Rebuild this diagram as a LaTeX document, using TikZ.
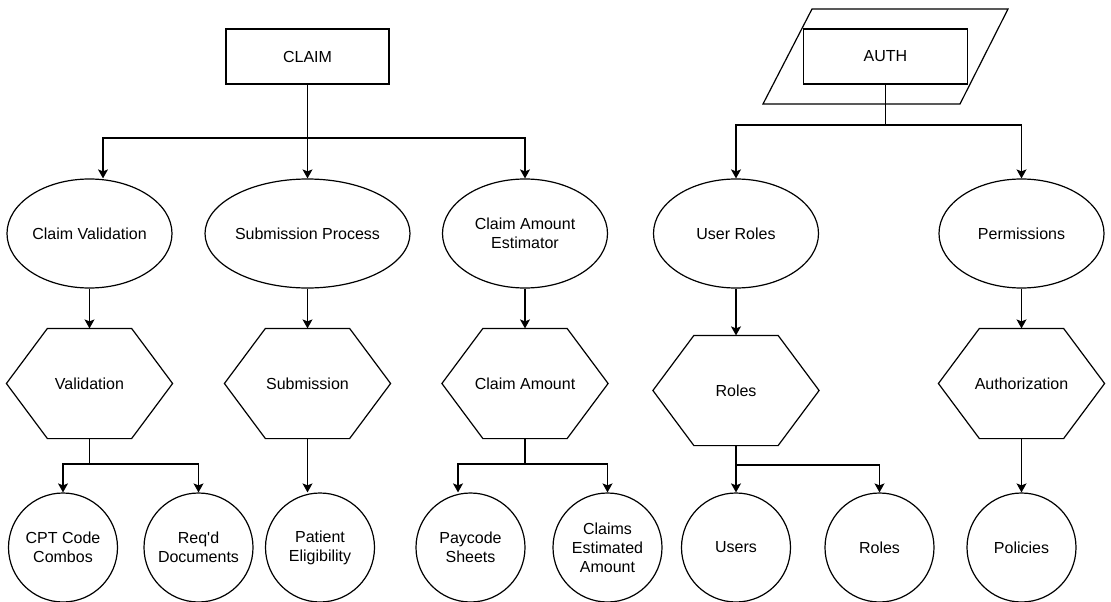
\documentclass[tikz,border=0pt]{standalone}
\usepackage{fontspec}
\setmainfont{Liberation Sans}
\usetikzlibrary{shapes.geometric,arrows.meta,calc}
\begin{document}
\begin{tikzpicture}[x=1pt,y=-1pt, line width=1.2pt, font=\fontsize{16}{19}\selectfont,
  box/.style={draw, fill=white, minimum width=163pt, minimum height=55pt, inner sep=0pt},
  oval/.style={draw, ellipse, minimum width=165pt, minimum height=109pt, inner sep=0pt, align=center},
  hexa/.style={minimum width=165pt, minimum height=109pt, inner sep=0pt, align=center},
  leaf/.style={draw, circle, minimum size=109pt, inner sep=0pt, align=center},
  arr/.style={-{Stealth[length=9pt,width=10pt,inset=2pt]}}]
\useasboundingbox (0,0) rectangle (1111,602);

% top level
\node[box] (claim) at (307.5,56.5) {CLAIM};
\draw (812,9) -- (1008,9) -- (960,104) -- (763,104) -- cycle;
\node[box, minimum width=164pt] (auth) at (885.5,56.5) {AUTH};

% ellipses
\node[oval] (cv)  at (89.5,233.5)  {Claim Validation};
\node[oval] (sp)  at (307.5,233.5) {Submission Process};
\node[oval] (cae) at (525,233.5)   {Claim Amount\\Estimator};
\node[oval] (ur)  at (736,233.5)   {User Roles};
\node[oval] (pm)  at (1021.5,233.5){Permissions};

% hexagons
\node[hexa] (val) at (89.5,383.5)  {Validation};
\node[hexa] (sub) at (307.5,383.5) {Submission};
\node[hexa] (cam) at (525,383.5)   {Claim Amount};
\node[hexa] (rol) at (736,390.5)   {Roles};
\node[hexa] (aut) at (1021.5,383.5){Authorization};
\foreach \n in {val,sub,cam,rol,aut}
  \draw ($(\n.north west)+(41,0)$) -- ($(\n.north east)+(-41,0)$) -- (\n.east)
     -- ($(\n.south east)+(-41,0)$) -- ($(\n.south west)+(41,0)$) -- (\n.west) -- cycle;

% circles
\node[leaf] (cpt) at (63,547.5)    {CPT Code\\Combos};
\node[leaf] (req) at (198.5,547.5) {Req\textquotesingle d\\Documents};
\node[leaf] (pe)  at (320,547.5)   {Patient\\Eligibility};
\node[leaf] (pay) at (470.5,547.5) {Paycode\\Sheets};
\node[leaf] (cea) at (607.5,547.5) {Claims\\Estimated\\Amount};
\node[leaf] (usr) at (736,547.5)   {Users};
\node[leaf] (rls) at (879.5,547.5) {Roles};
\node[leaf] (pol) at (1021.5,547.5){Policies};

% junctions
\coordinate (jc)  at (307.5,138);
\coordinate (ja)  at (885.5,125);
\coordinate (jv)  at (89.5,464);
\coordinate (jca) at (525,464);
\coordinate (jr)  at (736,465);

% connectors top
\draw[arr] (claim.south) -- (sp.north);
\draw[arr] (jc) -| ([xshift=13.5pt]cv.north);
\draw[arr] (jc) -| (cae.north);
\draw (auth.south) -- (ja);
\draw[arr] (ja) -| (ur.north);
\draw[arr] (ja) -| (pm.north);

% ellipse to hexagon
\draw[arr] (cv.south) -- (val.north);
\draw[arr] (sp.south) -- (sub.north);
\draw[arr] (cae.south) -- (cam.north);
\draw[arr] (ur.south) -- (rol.north);
\draw[arr] (pm.south) -- (aut.north);

% hexagon to circles
\draw (val.south) -- (jv);
\draw[arr] (jv) -| (cpt.north);
\draw[arr] (jv) -| (req.north);
\draw[arr] (sub.south) -- (sub.south |- pe.north);
\draw (cam.south) -- (jca);
\draw[arr] (jca) -| ([xshift=-12.5pt]pay.north);
\draw[arr] (jca) -| (cea.north);
\draw[arr] (rol.south) -- (usr.north);
\draw[arr] (jr) -| (rls.north);
\draw[arr] (aut.south) -- (pol.north);
\end{tikzpicture}
\end{document}
